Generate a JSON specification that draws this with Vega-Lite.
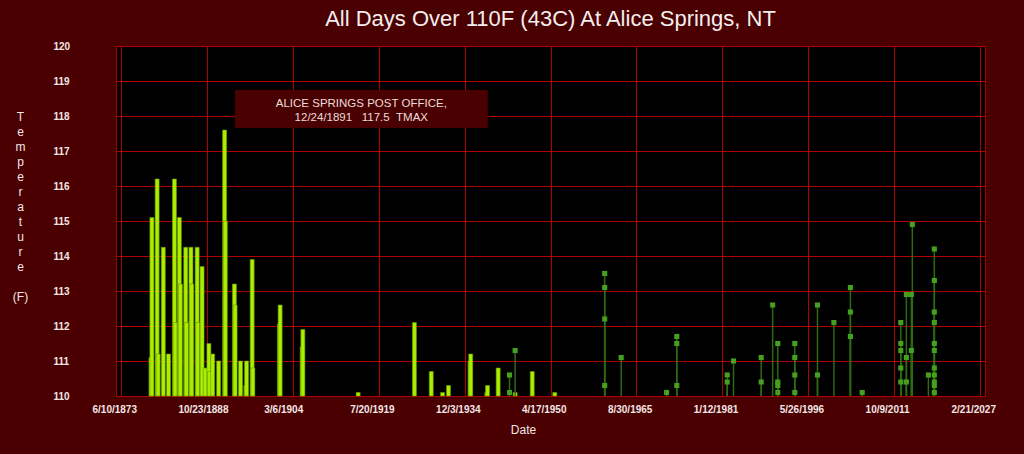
{
  "$schema": "https://vega.github.io/schema/vega-lite/v6.json",
  "width": 869,
  "height": 350,
  "autosize": {"type": "none"},
  "padding": {"left": 116, "top": 46, "right": 39, "bottom": 58},
  "background": "#4a0000",
  "config": {
    "view": {"fill": "#000000", "stroke": "#a00000", "strokeWidth": 1},
    "font": "Liberation Sans",
    "axis": {
      "grid": true,
      "gridColor": "#b00000",
      "gridOpacity": 1,
      "gridWidth": 1,
      "domain": false,
      "ticks": false,
      "tickSize": 0,
      "labelFont": "Liberation Sans",
      "labelFontSize": 10,
      "labelFontWeight": "bold",
      "labelColor": "#f2e6e6",
      "labelFlush": false,
      "labelOverlap": false,
      "labelSeparation": 0,
      "titleFont": "Liberation Sans",
      "titleFontSize": 12,
      "titleFontWeight": "normal",
      "titleColor": "#f2e6e6"
    }
  },
  "title": {
    "text": "All Days Over 110F (43C) At Alice Springs, NT",
    "fontSize": 22,
    "fontWeight": "normal",
    "font": "Liberation Sans",
    "color": "#f4eeee",
    "anchor": "middle",
    "baseline": "alphabetic",
    "offset": 17,
    "dy": 24
  },
  "datasets": {
    "bars": [
      {"date": "1878-10-18", "temp": 111.1},
      {"date": "1878-12-20", "temp": 115.1},
      {"date": "1879-11-28", "temp": 116.2},
      {"date": "1880-02-01", "temp": 111.2},
      {"date": "1881-01-05", "temp": 114.25},
      {"date": "1881-12-10", "temp": 111.2},
      {"date": "1883-01-01", "temp": 116.2},
      {"date": "1883-02-15", "temp": 112.1},
      {"date": "1883-11-20", "temp": 115.1},
      {"date": "1884-01-25", "temp": 113.2},
      {"date": "1885-01-08", "temp": 114.25},
      {"date": "1885-02-20", "temp": 112.1},
      {"date": "1885-12-15", "temp": 114.25},
      {"date": "1886-02-01", "temp": 113.2},
      {"date": "1887-01-25", "temp": 114.25},
      {"date": "1887-03-01", "temp": 112.1},
      {"date": "1887-12-12", "temp": 113.7},
      {"date": "1888-07-08", "temp": 110.8},
      {"date": "1889-03-01", "temp": 111.5},
      {"date": "1889-04-15", "temp": 110.7},
      {"date": "1889-11-03", "temp": 111.2},
      {"date": "1890-11-28", "temp": 111.0},
      {"date": "1891-12-24", "temp": 117.6},
      {"date": "1892-02-10", "temp": 115.0},
      {"date": "1893-09-25", "temp": 113.2},
      {"date": "1893-11-10", "temp": 112.6},
      {"date": "1894-10-30", "temp": 111.0},
      {"date": "1895-10-10", "temp": 110.3},
      {"date": "1895-11-28", "temp": 111.0},
      {"date": "1896-11-28", "temp": 113.9},
      {"date": "1897-01-10", "temp": 110.8},
      {"date": "1901-10-15", "temp": 112.06},
      {"date": "1901-12-01", "temp": 112.6},
      {"date": "1905-11-10", "temp": 111.4},
      {"date": "1905-12-24", "temp": 111.9},
      {"date": "1915-11-17", "temp": 110.1},
      {"date": "1925-12-10", "temp": 112.1},
      {"date": "1928-12-15", "temp": 110.7},
      {"date": "1930-12-24", "temp": 110.1},
      {"date": "1932-01-15", "temp": 110.3},
      {"date": "1935-11-20", "temp": 111.0},
      {"date": "1936-01-08", "temp": 111.2},
      {"date": "1938-11-20", "temp": 110.1},
      {"date": "1939-01-08", "temp": 110.3},
      {"date": "1940-12-05", "temp": 110.8},
      {"date": "1943-12-20", "temp": 110.1},
      {"date": "1947-01-10", "temp": 110.7},
      {"date": "1951-01-22", "temp": 110.1}
    ],
    "stems": [
      {"date": "1942-12-16", "temp": 110.6},
      {"date": "1942-12-16", "temp": 110.1},
      {"date": "1943-12-20", "temp": 111.3},
      {"date": "1959-12-28", "temp": 113.5},
      {"date": "1959-12-28", "temp": 113.1},
      {"date": "1959-12-28", "temp": 112.2},
      {"date": "1959-12-28", "temp": 110.3},
      {"date": "1962-12-10", "temp": 111.1},
      {"date": "1971-01-25", "temp": 110.1},
      {"date": "1972-11-20", "temp": 111.7},
      {"date": "1972-11-20", "temp": 111.5},
      {"date": "1972-11-20", "temp": 110.3},
      {"date": "1981-11-28", "temp": 110.6},
      {"date": "1981-11-28", "temp": 110.4},
      {"date": "1983-01-15", "temp": 111.0},
      {"date": "1987-12-28", "temp": 111.1},
      {"date": "1987-12-28", "temp": 110.4},
      {"date": "1990-01-15", "temp": 112.6},
      {"date": "1990-12-15", "temp": 111.5},
      {"date": "1990-12-15", "temp": 110.4},
      {"date": "1990-12-15", "temp": 110.3},
      {"date": "1990-12-15", "temp": 110.1},
      {"date": "1994-01-01", "temp": 111.5},
      {"date": "1994-01-01", "temp": 111.1},
      {"date": "1994-01-01", "temp": 110.6},
      {"date": "1994-01-01", "temp": 110.1},
      {"date": "1998-01-22", "temp": 112.6},
      {"date": "1998-01-22", "temp": 110.6},
      {"date": "2001-01-01", "temp": 112.1},
      {"date": "2003-12-15", "temp": 113.1},
      {"date": "2003-12-15", "temp": 112.4},
      {"date": "2003-12-15", "temp": 111.7},
      {"date": "2006-01-25", "temp": 110.1},
      {"date": "2012-12-20", "temp": 112.1},
      {"date": "2012-12-20", "temp": 111.5},
      {"date": "2012-12-20", "temp": 111.3},
      {"date": "2012-12-20", "temp": 110.8},
      {"date": "2012-12-20", "temp": 110.4},
      {"date": "2013-12-20", "temp": 112.9},
      {"date": "2013-12-20", "temp": 111.1},
      {"date": "2013-12-20", "temp": 110.4},
      {"date": "2014-11-10", "temp": 112.9},
      {"date": "2014-11-10", "temp": 111.3},
      {"date": "2015-01-12", "temp": 114.9},
      {"date": "2017-11-28", "temp": 110.6},
      {"date": "2018-12-20", "temp": 114.2},
      {"date": "2018-12-20", "temp": 113.3},
      {"date": "2018-12-20", "temp": 112.4},
      {"date": "2018-12-20", "temp": 112.1},
      {"date": "2018-12-20", "temp": 111.5},
      {"date": "2018-12-20", "temp": 111.3},
      {"date": "2018-12-20", "temp": 110.8},
      {"date": "2018-12-20", "temp": 110.6},
      {"date": "2018-12-20", "temp": 110.4},
      {"date": "2018-12-20", "temp": 110.3},
      {"date": "2018-12-20", "temp": 110.1}
    ],
    "notebox": [
      {"date": "1893-10-27", "date2": "1939-01-26", "temp": 118.74, "temp2": 117.66}
    ],
    "notetext": [
      {"date": "1916-06-10", "temp": 118.33, "label": "ALICE SPRINGS POST OFFICE,\n12/24/1891\u00a0\u00a0\u00a0117.5\u00a0\u00a0TMAX"}
    ]
  },
  "encoding": {
    "x": {
      "field": "date",
      "type": "temporal",
      "title": "Date",
      "scale": {
        "type": "utc",
        "domain": [
          {"year": 1873, "month": 6, "date": 10, "utc": true},
          {"year": 2027, "month": 2, "date": 21, "utc": true}
        ]
      },
      "axis": {
        "values": [
          {"year": 1873, "month": 6, "date": 10, "utc": true},
          {"year": 1888, "month": 10, "date": 23, "utc": true},
          {"year": 1904, "month": 3, "date": 6, "utc": true},
          {"year": 1919, "month": 7, "date": 20, "utc": true},
          {"year": 1934, "month": 12, "date": 3, "utc": true},
          {"year": 1950, "month": 4, "date": 17, "utc": true},
          {"year": 1965, "month": 8, "date": 30, "utc": true},
          {"year": 1981, "month": 1, "date": 12, "utc": true},
          {"year": 1996, "month": 5, "date": 26, "utc": true},
          {"year": 2011, "month": 10, "date": 9, "utc": true},
          {"year": 2027, "month": 2, "date": 21, "utc": true}
        ],
        "format": "%-m/%-d/%Y",
        "labelAlign": "left",
        "labelOffset": -29,
        "labelBaseline": "middle",
        "labelPadding": 13,
        "labelBound": false,
        "labelOverlap": false,
        "titleX": 407,
        "titleY": 33,
        "titleAlign": "center",
        "titleBaseline": "middle"
      }
    },
    "y": {
      "field": "temp",
      "type": "quantitative",
      "title": ["T", "e", "m", "p", "e", "r", "a", "t", "u", "r", "e", "\u2800", "(F)"],
      "scale": {"domain": [110, 120], "zero": false, "nice": false},
      "axis": {
        "values": [110, 111, 112, 113, 114, 115, 116, 117, 118, 119, 120],
        "labelOverlap": false,
        "labelSeparation": 0,
        "labelAlign": "left",
        "labelBaseline": "middle",
        "labelPadding": 63,
        "titleAngle": 0,
        "titleLineHeight": 15,
        "titleX": -96,
        "titleY": 70,
        "titleAlign": "center",
        "titleBaseline": "middle"
      }
    }
  },
  "layer": [
    {
      "data": {"name": "bars"},
      "mark": {"type": "bar", "width": 4, "color": "#aaee00", "stroke": "#6a9400", "strokeWidth": 0.6},
      "encoding": {"y2": {"datum": 110}}
    },
    {
      "data": {"name": "stems"},
      "mark": {"type": "rule", "color": "#2d6a12", "strokeWidth": 1.5},
      "encoding": {"y2": {"datum": 110}}
    },
    {
      "data": {"name": "stems"},
      "mark": {"type": "point", "shape": "square", "filled": true, "size": 26, "color": "#44a01e", "opacity": 1},
      "encoding": {}
    },
    {
      "data": {"name": "notebox"},
      "mark": {"type": "rect", "color": "#4a0000"},
      "encoding": {"x2": {"field": "date2"}, "y2": {"field": "temp2"}}
    },
    {
      "data": {"name": "notetext"},
      "mark": {"type": "text", "color": "#eadcdc", "font": "Liberation Sans", "fontSize": 11.5, "lineHeight": 14, "lineBreak": "\n", "align": "center", "baseline": "middle"},
      "encoding": {"text": {"field": "label"}}
    }
  ]
}
